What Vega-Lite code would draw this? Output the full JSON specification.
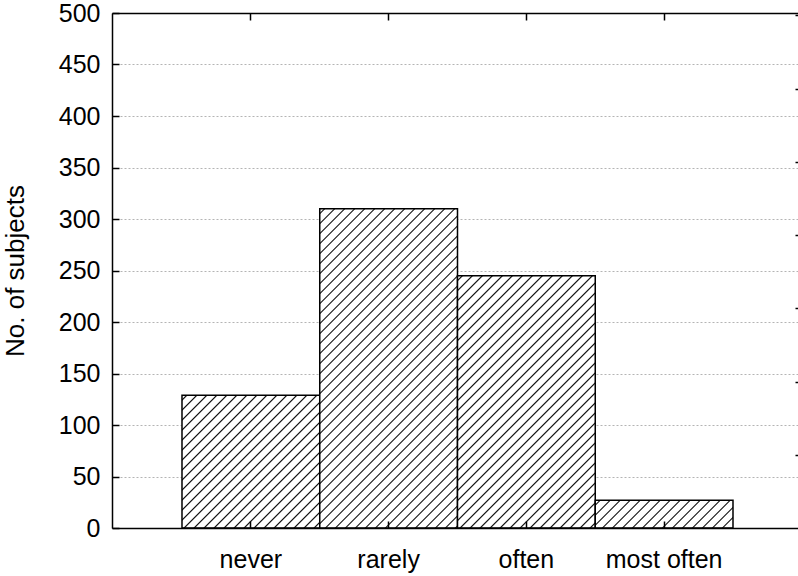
{
"$schema": "https://vega.github.io/schema/vega-lite/v6.json",
"width": 686, "height": 515,
"autosize": "none",
"padding": {"left": 112, "top": 13, "right": 0, "bottom": 48},
"background": "white",
"config": {"view": {"stroke": null}, "font": "Liberation Sans",
 "axis": {"domainColor": "#000", "domainWidth": 1.5, "tickColor": "#000", "tickWidth": 1.5, "labelColor": "#000", "labelFont": "Liberation Sans", "labelFontSize": 25, "titleFont": "Liberation Sans", "titleFontSize": 26, "titleFontWeight": "normal", "titleColor": "#000"}},
"data": {"values": [
 {"cat": "never", "count": 129},
 {"cat": "rarely", "count": 310},
 {"cat": "often", "count": 245},
 {"cat": "most often", "count": 27}
]},
"layer": [
 {"mark": {"type": "bar", "stroke": "#000", "strokeWidth": 1.5},
  "encoding": {
   "x": {"field": "cat", "type": "nominal", "sort": null,
    "scale": {"domain": ["never", "rarely", "often", "most often"], "paddingInner": 0, "paddingOuter": 0.49, "align": 0.5185},
    "axis": {"orient": "bottom", "title": null, "labelAngle": 0, "tickSize": -7, "labelPadding": 46, "labelBaseline": "alphabetic", "bandPosition": 0.5, "zindex": 1, "grid": false}},
   "y": {"field": "count", "type": "quantitative",
    "scale": {"domain": [0, 500], "nice": false},
    "axis": {"title": "No. of subjects", "values": [0, 50, 100, 150, 200, 250, 300, 350, 400, 450, 500], "tickSize": -7, "labelPadding": 19, "grid": true, "gridColor": "#b4b4b4", "gridDash": [2, 2], "gridWidth": 1, "titleX": -84, "titleY": 257.5, "titleBaseline": "bottom", "titleAngle": 270, "zindex": 0}},
   "fill": {"condition": [
    {"test": "datum.cat === 'never'", "value": {"gradient": "linear", "x1": 0, "y1": 0, "x2": 1.0177, "y2": 0.9817, "stops": [
{"offset":0.0129,"color":"#fff"},{"offset":0.0185,"color":"#000"},{"offset":0.0240,"color":"#fff"},
{"offset":0.0499,"color":"#fff"},{"offset":0.0554,"color":"#000"},{"offset":0.0610,"color":"#fff"},
{"offset":0.0868,"color":"#fff"},{"offset":0.0924,"color":"#000"},{"offset":0.0979,"color":"#fff"},
{"offset":0.1238,"color":"#fff"},{"offset":0.1293,"color":"#000"},{"offset":0.1349,"color":"#fff"},
{"offset":0.1607,"color":"#fff"},{"offset":0.1663,"color":"#000"},{"offset":0.1718,"color":"#fff"},
{"offset":0.1977,"color":"#fff"},{"offset":0.2032,"color":"#000"},{"offset":0.2088,"color":"#fff"},
{"offset":0.2346,"color":"#fff"},{"offset":0.2402,"color":"#000"},{"offset":0.2457,"color":"#fff"},
{"offset":0.2716,"color":"#fff"},{"offset":0.2771,"color":"#000"},{"offset":0.2827,"color":"#fff"},
{"offset":0.3085,"color":"#fff"},{"offset":0.3141,"color":"#000"},{"offset":0.3196,"color":"#fff"},
{"offset":0.3455,"color":"#fff"},{"offset":0.3510,"color":"#000"},{"offset":0.3566,"color":"#fff"},
{"offset":0.3825,"color":"#fff"},{"offset":0.3880,"color":"#000"},{"offset":0.3935,"color":"#fff"},
{"offset":0.4194,"color":"#fff"},{"offset":0.4249,"color":"#000"},{"offset":0.4305,"color":"#fff"},
{"offset":0.4564,"color":"#fff"},{"offset":0.4619,"color":"#000"},{"offset":0.4674,"color":"#fff"},
{"offset":0.4933,"color":"#fff"},{"offset":0.4989,"color":"#000"},{"offset":0.5044,"color":"#fff"},
{"offset":0.5303,"color":"#fff"},{"offset":0.5358,"color":"#000"},{"offset":0.5413,"color":"#fff"},
{"offset":0.5672,"color":"#fff"},{"offset":0.5728,"color":"#000"},{"offset":0.5783,"color":"#fff"},
{"offset":0.6042,"color":"#fff"},{"offset":0.6097,"color":"#000"},{"offset":0.6153,"color":"#fff"},
{"offset":0.6411,"color":"#fff"},{"offset":0.6467,"color":"#000"},{"offset":0.6522,"color":"#fff"},
{"offset":0.6781,"color":"#fff"},{"offset":0.6836,"color":"#000"},{"offset":0.6892,"color":"#fff"},
{"offset":0.7150,"color":"#fff"},{"offset":0.7206,"color":"#000"},{"offset":0.7261,"color":"#fff"},
{"offset":0.7520,"color":"#fff"},{"offset":0.7575,"color":"#000"},{"offset":0.7631,"color":"#fff"},
{"offset":0.7889,"color":"#fff"},{"offset":0.7945,"color":"#000"},{"offset":0.8000,"color":"#fff"},
{"offset":0.8259,"color":"#fff"},{"offset":0.8314,"color":"#000"},{"offset":0.8370,"color":"#fff"},
{"offset":0.8628,"color":"#fff"},{"offset":0.8684,"color":"#000"},{"offset":0.8739,"color":"#fff"},
{"offset":0.8998,"color":"#fff"},{"offset":0.9053,"color":"#000"},{"offset":0.9109,"color":"#fff"},
{"offset":0.9367,"color":"#fff"},{"offset":0.9423,"color":"#000"},{"offset":0.9478,"color":"#fff"},
{"offset":0.9737,"color":"#fff"},{"offset":0.9792,"color":"#000"},{"offset":0.9848,"color":"#fff"}
    ]}},
    {"test": "datum.cat === 'rarely'", "value": {"gradient": "linear", "x1": 0, "y1": 0, "x2": 0.5206, "y2": 1.2068, "stops": [
{"offset":0.0077,"color":"#fff"},{"offset":0.0109,"color":"#000"},{"offset":0.0142,"color":"#fff"},
{"offset":0.0295,"color":"#fff"},{"offset":0.0328,"color":"#000"},{"offset":0.0361,"color":"#fff"},
{"offset":0.0514,"color":"#fff"},{"offset":0.0547,"color":"#000"},{"offset":0.0580,"color":"#fff"},
{"offset":0.0733,"color":"#fff"},{"offset":0.0766,"color":"#000"},{"offset":0.0799,"color":"#fff"},
{"offset":0.0952,"color":"#fff"},{"offset":0.0985,"color":"#000"},{"offset":0.1017,"color":"#fff"},
{"offset":0.1171,"color":"#fff"},{"offset":0.1203,"color":"#000"},{"offset":0.1236,"color":"#fff"},
{"offset":0.1389,"color":"#fff"},{"offset":0.1422,"color":"#000"},{"offset":0.1455,"color":"#fff"},
{"offset":0.1608,"color":"#fff"},{"offset":0.1641,"color":"#000"},{"offset":0.1674,"color":"#fff"},
{"offset":0.1827,"color":"#fff"},{"offset":0.1860,"color":"#000"},{"offset":0.1893,"color":"#fff"},
{"offset":0.2046,"color":"#fff"},{"offset":0.2079,"color":"#000"},{"offset":0.2111,"color":"#fff"},
{"offset":0.2264,"color":"#fff"},{"offset":0.2297,"color":"#000"},{"offset":0.2330,"color":"#fff"},
{"offset":0.2483,"color":"#fff"},{"offset":0.2516,"color":"#000"},{"offset":0.2549,"color":"#fff"},
{"offset":0.2702,"color":"#fff"},{"offset":0.2735,"color":"#000"},{"offset":0.2768,"color":"#fff"},
{"offset":0.2921,"color":"#fff"},{"offset":0.2954,"color":"#000"},{"offset":0.2986,"color":"#fff"},
{"offset":0.3140,"color":"#fff"},{"offset":0.3172,"color":"#000"},{"offset":0.3205,"color":"#fff"},
{"offset":0.3358,"color":"#fff"},{"offset":0.3391,"color":"#000"},{"offset":0.3424,"color":"#fff"},
{"offset":0.3577,"color":"#fff"},{"offset":0.3610,"color":"#000"},{"offset":0.3643,"color":"#fff"},
{"offset":0.3796,"color":"#fff"},{"offset":0.3829,"color":"#000"},{"offset":0.3862,"color":"#fff"},
{"offset":0.4015,"color":"#fff"},{"offset":0.4048,"color":"#000"},{"offset":0.4080,"color":"#fff"},
{"offset":0.4234,"color":"#fff"},{"offset":0.4266,"color":"#000"},{"offset":0.4299,"color":"#fff"},
{"offset":0.4452,"color":"#fff"},{"offset":0.4485,"color":"#000"},{"offset":0.4518,"color":"#fff"},
{"offset":0.4671,"color":"#fff"},{"offset":0.4704,"color":"#000"},{"offset":0.4737,"color":"#fff"},
{"offset":0.4890,"color":"#fff"},{"offset":0.4923,"color":"#000"},{"offset":0.4956,"color":"#fff"},
{"offset":0.5109,"color":"#fff"},{"offset":0.5142,"color":"#000"},{"offset":0.5174,"color":"#fff"},
{"offset":0.5328,"color":"#fff"},{"offset":0.5360,"color":"#000"},{"offset":0.5393,"color":"#fff"},
{"offset":0.5546,"color":"#fff"},{"offset":0.5579,"color":"#000"},{"offset":0.5612,"color":"#fff"},
{"offset":0.5765,"color":"#fff"},{"offset":0.5798,"color":"#000"},{"offset":0.5831,"color":"#fff"},
{"offset":0.5984,"color":"#fff"},{"offset":0.6017,"color":"#000"},{"offset":0.6050,"color":"#fff"},
{"offset":0.6203,"color":"#fff"},{"offset":0.6236,"color":"#000"},{"offset":0.6268,"color":"#fff"},
{"offset":0.6421,"color":"#fff"},{"offset":0.6454,"color":"#000"},{"offset":0.6487,"color":"#fff"},
{"offset":0.6640,"color":"#fff"},{"offset":0.6673,"color":"#000"},{"offset":0.6706,"color":"#fff"},
{"offset":0.6859,"color":"#fff"},{"offset":0.6892,"color":"#000"},{"offset":0.6925,"color":"#fff"},
{"offset":0.7078,"color":"#fff"},{"offset":0.7111,"color":"#000"},{"offset":0.7144,"color":"#fff"},
{"offset":0.7297,"color":"#fff"},{"offset":0.7329,"color":"#000"},{"offset":0.7362,"color":"#fff"},
{"offset":0.7515,"color":"#fff"},{"offset":0.7548,"color":"#000"},{"offset":0.7581,"color":"#fff"},
{"offset":0.7734,"color":"#fff"},{"offset":0.7767,"color":"#000"},{"offset":0.7800,"color":"#fff"},
{"offset":0.7953,"color":"#fff"},{"offset":0.7986,"color":"#000"},{"offset":0.8019,"color":"#fff"},
{"offset":0.8172,"color":"#fff"},{"offset":0.8205,"color":"#000"},{"offset":0.8237,"color":"#fff"},
{"offset":0.8391,"color":"#fff"},{"offset":0.8423,"color":"#000"},{"offset":0.8456,"color":"#fff"},
{"offset":0.8609,"color":"#fff"},{"offset":0.8642,"color":"#000"},{"offset":0.8675,"color":"#fff"},
{"offset":0.8828,"color":"#fff"},{"offset":0.8861,"color":"#000"},{"offset":0.8894,"color":"#fff"},
{"offset":0.9047,"color":"#fff"},{"offset":0.9080,"color":"#000"},{"offset":0.9113,"color":"#fff"},
{"offset":0.9266,"color":"#fff"},{"offset":0.9299,"color":"#000"},{"offset":0.9331,"color":"#fff"},
{"offset":0.9485,"color":"#fff"},{"offset":0.9517,"color":"#000"},{"offset":0.9550,"color":"#fff"},
{"offset":0.9703,"color":"#fff"},{"offset":0.9736,"color":"#000"},{"offset":0.9769,"color":"#fff"},
{"offset":0.9922,"color":"#fff"},{"offset":0.9955,"color":"#000"},{"offset":0.9988,"color":"#fff"}
    ]}},
    {"test": "datum.cat === 'often'", "value": {"gradient": "linear", "x1": 0, "y1": 0, "x2": 0.6501, "y2": 1.1910, "stops": [
{"offset":0.0090,"color":"#fff"},{"offset":0.0128,"color":"#000"},{"offset":0.0167,"color":"#fff"},
{"offset":0.0346,"color":"#fff"},{"offset":0.0385,"color":"#000"},{"offset":0.0423,"color":"#fff"},
{"offset":0.0602,"color":"#fff"},{"offset":0.0641,"color":"#000"},{"offset":0.0679,"color":"#fff"},
{"offset":0.0859,"color":"#fff"},{"offset":0.0897,"color":"#000"},{"offset":0.0936,"color":"#fff"},
{"offset":0.1115,"color":"#fff"},{"offset":0.1154,"color":"#000"},{"offset":0.1192,"color":"#fff"},
{"offset":0.1371,"color":"#fff"},{"offset":0.1410,"color":"#000"},{"offset":0.1448,"color":"#fff"},
{"offset":0.1628,"color":"#fff"},{"offset":0.1666,"color":"#000"},{"offset":0.1705,"color":"#fff"},
{"offset":0.1884,"color":"#fff"},{"offset":0.1923,"color":"#000"},{"offset":0.1961,"color":"#fff"},
{"offset":0.2141,"color":"#fff"},{"offset":0.2179,"color":"#000"},{"offset":0.2217,"color":"#fff"},
{"offset":0.2397,"color":"#fff"},{"offset":0.2435,"color":"#000"},{"offset":0.2474,"color":"#fff"},
{"offset":0.2653,"color":"#fff"},{"offset":0.2692,"color":"#000"},{"offset":0.2730,"color":"#fff"},
{"offset":0.2910,"color":"#fff"},{"offset":0.2948,"color":"#000"},{"offset":0.2986,"color":"#fff"},
{"offset":0.3166,"color":"#fff"},{"offset":0.3204,"color":"#000"},{"offset":0.3243,"color":"#fff"},
{"offset":0.3422,"color":"#fff"},{"offset":0.3461,"color":"#000"},{"offset":0.3499,"color":"#fff"},
{"offset":0.3679,"color":"#fff"},{"offset":0.3717,"color":"#000"},{"offset":0.3756,"color":"#fff"},
{"offset":0.3935,"color":"#fff"},{"offset":0.3973,"color":"#000"},{"offset":0.4012,"color":"#fff"},
{"offset":0.4191,"color":"#fff"},{"offset":0.4230,"color":"#000"},{"offset":0.4268,"color":"#fff"},
{"offset":0.4448,"color":"#fff"},{"offset":0.4486,"color":"#000"},{"offset":0.4525,"color":"#fff"},
{"offset":0.4704,"color":"#fff"},{"offset":0.4742,"color":"#000"},{"offset":0.4781,"color":"#fff"},
{"offset":0.4960,"color":"#fff"},{"offset":0.4999,"color":"#000"},{"offset":0.5037,"color":"#fff"},
{"offset":0.5217,"color":"#fff"},{"offset":0.5255,"color":"#000"},{"offset":0.5294,"color":"#fff"},
{"offset":0.5473,"color":"#fff"},{"offset":0.5512,"color":"#000"},{"offset":0.5550,"color":"#fff"},
{"offset":0.5729,"color":"#fff"},{"offset":0.5768,"color":"#000"},{"offset":0.5806,"color":"#fff"},
{"offset":0.5986,"color":"#fff"},{"offset":0.6024,"color":"#000"},{"offset":0.6063,"color":"#fff"},
{"offset":0.6242,"color":"#fff"},{"offset":0.6281,"color":"#000"},{"offset":0.6319,"color":"#fff"},
{"offset":0.6498,"color":"#fff"},{"offset":0.6537,"color":"#000"},{"offset":0.6575,"color":"#fff"},
{"offset":0.6755,"color":"#fff"},{"offset":0.6793,"color":"#000"},{"offset":0.6832,"color":"#fff"},
{"offset":0.7011,"color":"#fff"},{"offset":0.7050,"color":"#000"},{"offset":0.7088,"color":"#fff"},
{"offset":0.7268,"color":"#fff"},{"offset":0.7306,"color":"#000"},{"offset":0.7344,"color":"#fff"},
{"offset":0.7524,"color":"#fff"},{"offset":0.7562,"color":"#000"},{"offset":0.7601,"color":"#fff"},
{"offset":0.7780,"color":"#fff"},{"offset":0.7819,"color":"#000"},{"offset":0.7857,"color":"#fff"},
{"offset":0.8037,"color":"#fff"},{"offset":0.8075,"color":"#000"},{"offset":0.8113,"color":"#fff"},
{"offset":0.8293,"color":"#fff"},{"offset":0.8331,"color":"#000"},{"offset":0.8370,"color":"#fff"},
{"offset":0.8549,"color":"#fff"},{"offset":0.8588,"color":"#000"},{"offset":0.8626,"color":"#fff"},
{"offset":0.8806,"color":"#fff"},{"offset":0.8844,"color":"#000"},{"offset":0.8883,"color":"#fff"},
{"offset":0.9062,"color":"#fff"},{"offset":0.9100,"color":"#000"},{"offset":0.9139,"color":"#fff"},
{"offset":0.9318,"color":"#fff"},{"offset":0.9357,"color":"#000"},{"offset":0.9395,"color":"#fff"},
{"offset":0.9575,"color":"#fff"},{"offset":0.9613,"color":"#000"},{"offset":0.9652,"color":"#fff"},
{"offset":0.9831,"color":"#fff"},{"offset":0.9869,"color":"#000"},{"offset":0.9908,"color":"#fff"}
    ]}}
   ],
   "value": {"gradient": "linear", "x1": 0, "y1": 0, "x2": 1.1548, "y2": 0.2331, "stops": [
{"offset":0.0211,"color":"#fff"},{"offset":0.0302,"color":"#000"},{"offset":0.0393,"color":"#fff"},
{"offset":0.0815,"color":"#fff"},{"offset":0.0906,"color":"#000"},{"offset":0.0997,"color":"#fff"},
{"offset":0.1419,"color":"#fff"},{"offset":0.1510,"color":"#000"},{"offset":0.1601,"color":"#fff"},
{"offset":0.2023,"color":"#fff"},{"offset":0.2114,"color":"#000"},{"offset":0.2205,"color":"#fff"},
{"offset":0.2627,"color":"#fff"},{"offset":0.2718,"color":"#000"},{"offset":0.2809,"color":"#fff"},
{"offset":0.3231,"color":"#fff"},{"offset":0.3322,"color":"#000"},{"offset":0.3413,"color":"#fff"},
{"offset":0.3835,"color":"#fff"},{"offset":0.3926,"color":"#000"},{"offset":0.4017,"color":"#fff"},
{"offset":0.4439,"color":"#fff"},{"offset":0.4530,"color":"#000"},{"offset":0.4621,"color":"#fff"},
{"offset":0.5043,"color":"#fff"},{"offset":0.5134,"color":"#000"},{"offset":0.5225,"color":"#fff"},
{"offset":0.5647,"color":"#fff"},{"offset":0.5738,"color":"#000"},{"offset":0.5829,"color":"#fff"},
{"offset":0.6252,"color":"#fff"},{"offset":0.6342,"color":"#000"},{"offset":0.6433,"color":"#fff"},
{"offset":0.6856,"color":"#fff"},{"offset":0.6946,"color":"#000"},{"offset":0.7037,"color":"#fff"},
{"offset":0.7460,"color":"#fff"},{"offset":0.7550,"color":"#000"},{"offset":0.7641,"color":"#fff"},
{"offset":0.8064,"color":"#fff"},{"offset":0.8154,"color":"#000"},{"offset":0.8245,"color":"#fff"},
{"offset":0.8668,"color":"#fff"},{"offset":0.8758,"color":"#000"},{"offset":0.8849,"color":"#fff"},
{"offset":0.9272,"color":"#fff"},{"offset":0.9362,"color":"#000"},{"offset":0.9453,"color":"#fff"}
   ]}}
  }},
 {"mark": {"type": "point", "opacity": 0},
  "encoding": {
   "x": {"field": "cat", "type": "nominal", "sort": null,
    "axis": {"orient": "top", "title": null, "labels": false, "tickSize": -7, "bandPosition": 0.5, "zindex": 1, "grid": false}},
   "y": {"datum": 0, "type": "quantitative",
    "scale": {"domain": [0, 70.3235], "nice": false},
    "axis": {"orient": "right", "title": null, "labels": false, "domain": false, "grid": false, "tickSize": -3, "values": [10, 20, 30, 40, 50, 60, 70], "zindex": 1}}
  }}
],
"resolve": {"scale": {"y": "independent"}, "axis": {"x": "independent", "y": "independent"}}
}
